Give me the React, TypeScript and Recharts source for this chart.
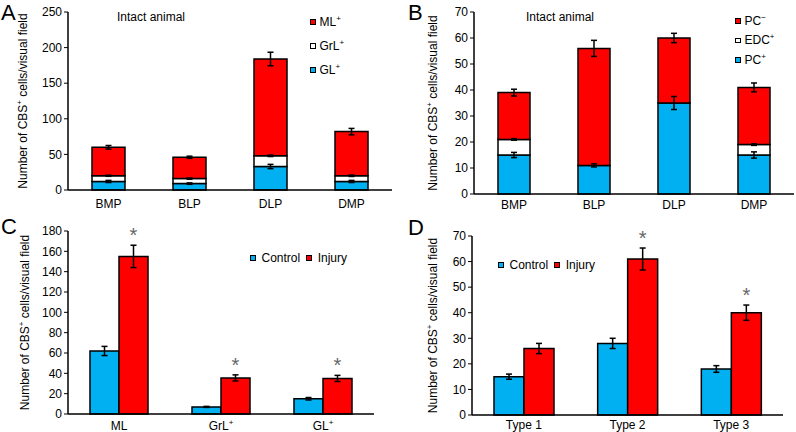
import React from "react";
import { BarChart, Bar, XAxis, YAxis, ErrorBar, Legend, LabelList } from "recharts";

const FONT = '"Liberation Sans", Arial, Helvetica, sans-serif';
const BLUE = "#00B0F0";
const RED = "#FF0000";
const WHITE = "#FFFFFF";
const INK = "#000000";

// Panel A - intact animal, cells per layer
const regionsA = ["BMP", "BLP", "DLP", "DMP"];
const glA = [12, 9, 33, 12];
const grlA = [8, 7, 15, 8];
const mlA = [40, 30, 136, 62];
const glErrA = [1.5, 1, 3, 1.5];
const grlErrA = [0.8, 0.8, 1, 1];
const mlErrA = [2.5, 1.5, 9.5, 4.5];
const ticksA = [0, 50, 100, 150, 200, 250];
const legendA = ["ML+", "GrL+", "GL+"];

// Panel B - intact animal, cell types
const regionsB = ["BMP", "BLP", "DLP", "DMP"];
const pcPosB = [15, 11, 35, 15];
const edcB = [6, 0, 0, 4];
const pcNegB = [18, 45, 25, 22];
const pcPosErrB = [1, 0.6, 2.5, 1.2];
const edcErrB = [0.3, 0, 0, 0.3];
const pcNegErrB = [1.3, 3.1, 1.8, 1.7];
const ticksB = [0, 10, 20, 30, 40, 50, 60, 70];
const legendB = ["PC−", "EDC+", "PC+"];

// Panel C - control vs injury per layer
const layersC = ["ML", "GrL+", "GL+"];
const controlC = [62, 7, 15];
const injuryC = [155, 35.5, 35];
const controlErrC = [4.5, 0.5, 1.2];
const injuryErrC = [11, 3, 3];
const sigC = [true, true, true];
const ticksC = [0, 20, 40, 60, 80, 100, 120, 140, 160, 180];

// Panel D - control vs injury per type
const typesD = ["Type 1", "Type 2", "Type 3"];
const controlD = [15, 28, 18];
const injuryD = [26, 61, 40];
const controlErrD = [1, 2, 1.3];
const injuryErrD = [2, 4.3, 3];
const sigD = [false, true, true];
const ticksD = [0, 10, 20, 30, 40, 50, 60, 70];

const dataA = regionsA.map((name, i) => ({
  name, gl: glA[i], grl: grlA[i], ml: mlA[i],
  glErr: glErrA[i], grlErr: grlErrA[i], mlErr: mlErrA[i],
}));
const dataB = regionsB.map((name, i) => ({
  name, pcPos: pcPosB[i], edc: edcB[i], pcNeg: pcNegB[i],
  pcPosErr: pcPosErrB[i], edcErr: edcErrB[i], pcNegErr: pcNegErrB[i],
}));
const dataC = layersC.map((name, i) => ({
  name, control: controlC[i], injury: injuryC[i], controlErr: controlErrC[i], injuryErr: injuryErrC[i],
}));
const dataD = typesD.map((name, i) => ({
  name, control: controlD[i], injury: injuryD[i], controlErr: controlErrD[i], injuryErr: injuryErrD[i],
}));

function splitSup(s: string): [string, string] {
  const last = s.slice(-1);
  return last === "+" || last === "−" ? [s.slice(0, -1), last] : [s, ""];
}

function CatTick({ x, y, payload }: any) {
  const [base, sup] = splitSup(String(payload.value));
  return (
    <text x={x} y={y} dy="0.71em" textAnchor="middle" fontSize={12} fontFamily={FONT} fill={INK}>
      {base}
      {sup && <tspan fontSize={8} dy={-5}>{sup}</tspan>}
    </text>
  );
}

const yLabel = (dx: number) => (props: any) => {
  const vb = props.viewBox;
  const cx = vb.x + dx;
  const cy = vb.y + vb.height / 2;
  return (
    <text transform={`translate(${cx},${cy}) rotate(-90)`} textAnchor="middle" dy="0.35em"
      fontSize={12} fontFamily={FONT} fill={INK}>
      Number of CBS<tspan fontSize={8} dy={-5}>+</tspan>
      <tspan dy={5}> cells/visual field</tspan>
    </text>
  );
};

const starLabel = (sig: boolean[], err: number[]) => (props: any) => {
  const vb = props.viewBox ?? props;
  const { x, y, width, height } = vb;
  const i = props.index;
  if (!sig[i]) return null;
  const top = y - (err[i] * height) / Number(props.value);
  return (
    <text x={x + width / 2} y={top - 3} textAnchor="middle" fontSize={20} fontFamily={FONT} fill="#666">*</text>
  );
};

function Square({ color, gap }: { color: string; gap: number }) {
  return (
    <span style={{
      display: "inline-block", width: 3.5, height: 3.5, border: `1.5px solid ${INK}`,
      background: color, marginRight: gap,
    }} />
  );
}

function Name({ text }: { text: string }) {
  const [base, sup] = splitSup(text);
  return (
    <span>
      {base}
      {sup && <span style={{ fontSize: 8, position: "relative", top: -5 }}>{sup}</span>}
    </span>
  );
}

const stackLegend = (order: string[], rowH: number) => (props: any) => {
  const items = [...(props.payload || [])].sort((a: any, b: any) => order.indexOf(a.value) - order.indexOf(b.value));
  return (
    <div style={{ fontFamily: FONT, fontSize: 12, color: INK }}>
      {items.map((entry: any) => (
        <div key={entry.value} style={{ display: "flex", alignItems: "center", height: rowH }}>
          <Square color={entry.color} gap={4} />
          <Name text={entry.value} />
        </div>
      ))}
    </div>
  );
};

const rowLegend = (props: any) => {
  const items = [...(props.payload || [])].sort((a: any, b: any) => (a.value === "Control" ? -1 : 1) - (b.value === "Control" ? -1 : 1));
  return (
    <div style={{ fontFamily: FONT, fontSize: 12, color: INK, display: "flex", alignItems: "center", height: 14 }}>
      {items.map((entry: any) => (
        <span key={entry.value} style={{ display: "flex", alignItems: "center", marginRight: 6 }}>
          <Square color={entry.color} gap={6} />
          {entry.value}
        </span>
      ))}
    </div>
  );
};

const yTick = { fontSize: 12, fill: INK, fontFamily: FONT };
const axisLine = { stroke: INK, strokeWidth: 1.5 };
const barStroke = { stroke: INK, strokeWidth: 1.5 };
const errProps = { stroke: INK, strokeWidth: 1.5, width: 3 };

function PanelLetter({ text, left, top }: { text: string; left: number; top: number }) {
  return (
    <div style={{ position: "absolute", left, top, fontSize: 22, lineHeight: "25px", fontFamily: FONT, color: INK }}>
      {text}
    </div>
  );
}

function Note({ left, top }: { left: number; top: number }) {
  return (
    <div style={{ position: "absolute", left, top, fontSize: 12, lineHeight: 1, fontFamily: FONT, color: INK }}>
      Intact animal
    </div>
  );
}

function PanelA() {
  return (
    <BarChart width={398} height={216} data={dataA} margin={{ top: 12, right: 6, bottom: 0, left: 0 }} barSize={33}>
      <XAxis dataKey="name" axisLine={axisLine} tickLine={false} tickMargin={3} height={26} tick={<CatTick />} interval={0} />
      <YAxis width={68} domain={[0, 250]} ticks={ticksA} interval={0} tick={yTick} tickSize={4}
        axisLine={axisLine} tickLine={{ stroke: INK }} label={yLabel(23)} />
      <Legend layout="vertical" align="center" verticalAlign="middle" content={stackLegend(legendA, 24)}
        wrapperStyle={{ left: 310, top: 10, width: 80, height: 72 }} />
      <Bar dataKey="gl" name="GL+" stackId="s" fill={BLUE} {...barStroke} isAnimationActive={false}>
        <ErrorBar dataKey="glErr" direction="y" {...errProps} />
      </Bar>
      <Bar dataKey="grl" name="GrL+" stackId="s" fill={WHITE} {...barStroke} isAnimationActive={false}>
        <ErrorBar dataKey="grlErr" direction="y" {...errProps} />
      </Bar>
      <Bar dataKey="ml" name="ML+" stackId="s" fill={RED} {...barStroke} isAnimationActive={false}>
        <ErrorBar dataKey="mlErr" direction="y" {...errProps} />
      </Bar>
    </BarChart>
  );
}

// category labels axis (outer) + boundary tick axis (inner, next to the plot)
function catAxis(tickMargin: number, height: number) {
  return (
    <XAxis xAxisId="axisCat" dataKey="name" axisLine={false} tickLine={false} tickSize={0} tickMargin={tickMargin}
      height={height} tick={<CatTick />} interval={0} />
  );
}
function edgeAxis(n: number) {
  return (
    <XAxis xAxisId="axisBase" type="number" domain={[0, n]} ticks={Array.from({ length: n + 1 }, (_, i) => i)}
      tick={false} tickSize={4} height={4} axisLine={axisLine} tickLine={{ stroke: INK }} allowDataOverflow />
  );
}

function PanelB() {
  return (
    <BarChart width={398} height={216} data={dataB} margin={{ top: 12, right: 2, bottom: 0, left: 0 }} barSize={32}>
      {catAxis(2, 18)}
      {edgeAxis(regionsB.length)}
      <YAxis width={76} domain={[0, 70]} ticks={ticksB} interval={0} tick={yTick} tickSize={4}
        axisLine={axisLine} tickLine={{ stroke: INK }} label={yLabel(35)} />
      <Legend layout="vertical" align="center" verticalAlign="middle" content={stackLegend(legendB, 19.5)}
        wrapperStyle={{ left: 337, top: 11, width: 60, height: 60 }} />
      <Bar xAxisId="axisCat" dataKey="pcPos" name="PC+" stackId="s" fill={BLUE} {...barStroke} isAnimationActive={false}>
        <ErrorBar dataKey="pcPosErr" direction="y" {...errProps} />
      </Bar>
      <Bar xAxisId="axisCat" dataKey="edc" name="EDC+" stackId="s" fill={WHITE} {...barStroke} isAnimationActive={false}>
        <ErrorBar dataKey="edcErr" direction="y" {...errProps} />
      </Bar>
      <Bar xAxisId="axisCat" dataKey="pcNeg" name="PC−" stackId="s" fill={RED} {...barStroke} isAnimationActive={false}>
        <ErrorBar dataKey="pcNegErr" direction="y" {...errProps} />
      </Bar>
    </BarChart>
  );
}

function PanelC() {
  return (
    <BarChart width={398} height={216} data={dataC} margin={{ top: 15, right: 24, bottom: 0, left: 0 }}
      barSize={29} barGap={0}>
      {catAxis(3, 14)}
      {edgeAxis(layersC.length)}
      <YAxis width={68} domain={[0, 180]} ticks={ticksC} interval={0} tick={yTick} tickSize={4}
        axisLine={axisLine} tickLine={{ stroke: INK }} label={yLabel(25)} />
      <Legend content={rowLegend} wrapperStyle={{ left: 250, top: 35, width: 120, height: 14 }}
        layout="vertical" align="center" verticalAlign="middle" />
      <Bar xAxisId="axisCat" dataKey="control" name="Control" fill={BLUE} {...barStroke} isAnimationActive={false}>
        <ErrorBar dataKey="controlErr" direction="y" {...errProps} />
      </Bar>
      <Bar xAxisId="axisCat" dataKey="injury" name="Injury" fill={RED} {...barStroke} isAnimationActive={false}>
        <ErrorBar dataKey="injuryErr" direction="y" {...errProps} />
        <LabelList dataKey="injury" content={starLabel(sigC, injuryErrC)} />
      </Bar>
    </BarChart>
  );
}

function PanelD() {
  return (
    <BarChart width={398} height={216} data={dataD} margin={{ top: 20, right: 13, bottom: 0, left: 0 }}
      barSize={30} barGap={0}>
      {catAxis(1, 13)}
      {edgeAxis(typesD.length)}
      <YAxis width={74} domain={[0, 70]} ticks={ticksD} interval={0} tick={yTick} tickSize={4}
        axisLine={axisLine} tickLine={{ stroke: INK }} label={yLabel(35)} />
      <Legend content={rowLegend} wrapperStyle={{ left: 100, top: 42, width: 120, height: 14 }}
        layout="vertical" align="center" verticalAlign="middle" />
      <Bar xAxisId="axisCat" dataKey="control" name="Control" fill={BLUE} {...barStroke} isAnimationActive={false}>
        <ErrorBar dataKey="controlErr" direction="y" {...errProps} />
      </Bar>
      <Bar xAxisId="axisCat" dataKey="injury" name="Injury" fill={RED} {...barStroke} isAnimationActive={false}>
        <ErrorBar dataKey="injuryErr" direction="y" {...errProps} />
        <LabelList dataKey="injury" content={starLabel(sigD, injuryErrD)} />
      </Bar>
    </BarChart>
  );
}

export default function App() {
  return (
    <div style={{ position: "absolute", left: 0, top: 0, width: 796, height: 432, background: "#fff", overflow: "hidden" }}>
      <div style={{ position: "absolute", left: 0, top: 0 }}><PanelA /></div>
      <div style={{ position: "absolute", left: 398, top: 0 }}><PanelB /></div>
      <div style={{ position: "absolute", left: 0, top: 216 }}><PanelC /></div>
      <div style={{ position: "absolute", left: 398, top: 216 }}><PanelD /></div>
      <PanelLetter text="A" left={1} top={0} />
      <PanelLetter text="B" left={408} top={0} />
      <PanelLetter text="C" left={1} top={214} />
      <PanelLetter text="D" left={408} top={215} />
      <Note left={117} top={11} />
      <Note left={526} top={11} />
    </div>
  );
}
